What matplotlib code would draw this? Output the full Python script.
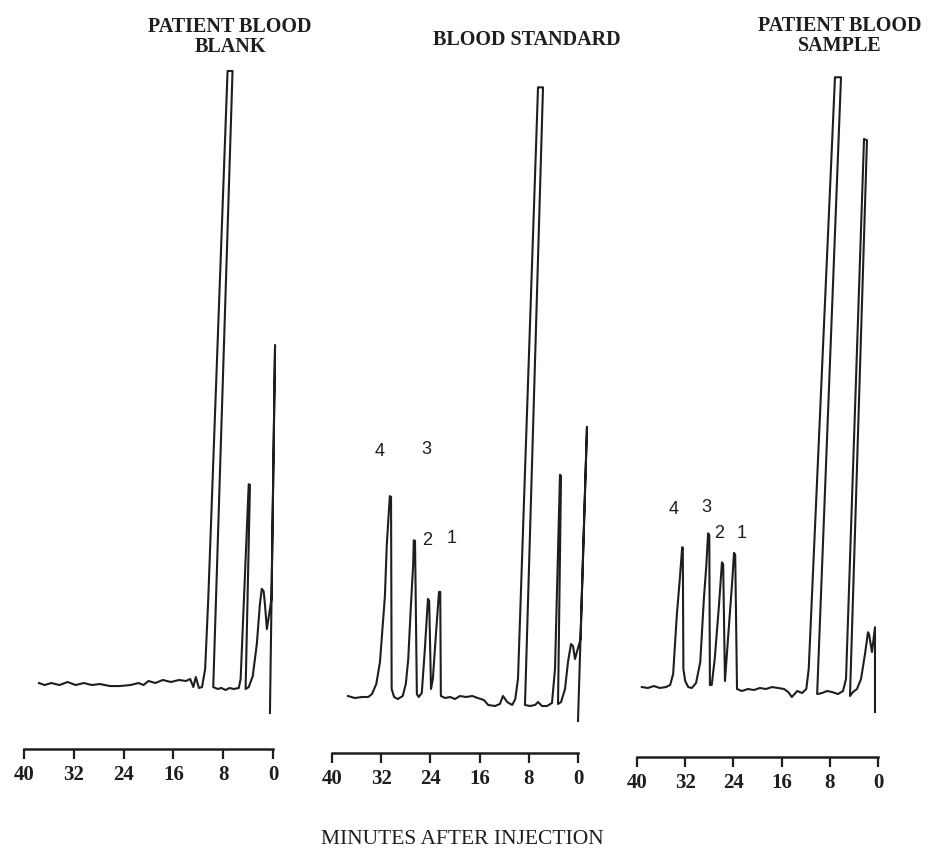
#! /usr/bin/env python3
import matplotlib
matplotlib.use('Agg')
import matplotlib.pyplot as plt

# minutes after injection and detector signal (% of full scale)
blank_t = [37.6, 36.7, 35.6, 34.3, 33.0, 31.7, 30.4, 29.1, 27.8, 26.2, 24.6, 22.9, 21.6, 20.8,
           20.0, 18.9, 17.7, 16.4, 15.1, 14.0, 13.3, 12.8, 12.4, 11.9, 11.4, 10.9, 10.4, 7.3, 6.5,
           9.6, 8.9, 8.3, 7.6, 7.0, 6.3, 5.5, 5.2, 3.9, 3.7, 4.4, 3.9, 3.25, 2.6, 2.1, 1.8, 1.5,
           1.3, 0.98, 0.24, -0.33, 0.49]
blank_v = [2.54, 2.22, 2.54, 2.22, 2.70, 2.22, 2.54, 2.22, 2.38, 2.06, 2.06, 2.22, 2.54, 2.22,
           2.86, 2.54, 3.02, 2.70, 3.02, 2.86, 3.17, 1.90, 3.49, 1.75, 1.90, 4.76, 15.9, 99.7, 99.7,
           1.90, 1.59, 1.75, 1.43, 1.75, 1.59, 1.75, 3.17, 34.1, 34.0, 1.59, 1.90, 3.65, 8.73, 15.1,
           17.5, 17.1, 15.1, 11.1, 15.9, 56.2, -2.22]

std_t = [37.4, 36.3, 35.1, 34.1, 33.5, 32.8, 32.2, 31.4, 31.1, 30.6, 30.4, 30.3, 29.9, 29.3,
         28.5, 28.0, 27.6, 27.2, 26.8, 26.7, 26.5, 26.2, 25.9, 25.4, 24.9, 24.4, 24.2, 23.9,
         23.6, 23.1, 22.6, 22.4, 22.3, 21.6, 20.8, 20.0, 19.2, 18.2, 17.2, 16.3, 15.3, 14.6,
         13.5, 12.7, 12.2, 11.5, 10.7, 10.2, 9.76, 6.50, 5.69, 8.62, 7.80, 6.99, 6.50, 5.85,
         5.04, 4.23, 3.74, 2.93, 2.76, 3.25, 2.76, 2.11, 1.63, 1.14, 0.81, 0.49, -0.41, -1.46, 0.0]
std_v = [0.48, 0.16, 0.32, 0.32, 0.79, 2.38, 5.87, 16.3, 24.3, 32.2, 32.1, 1.59, 0.32, 0.0,
         0.48, 2.38, 6.35, 14.3, 21.4, 25.2, 25.1, 0.79, 0.32, 0.95, 7.94, 15.9, 15.6, 1.59,
         3.17, 10.3, 17.0, 17.0, 0.48, 0.16, 0.32, 0.0, 0.48, 0.32, 0.48, 0.16, -0.16, -0.95,
         -1.11, -0.79, 0.48, -0.48, -0.95, 0.0, 3.17, 97.1, 97.1, -0.95, -1.11, -0.95, -0.48, -1.11,
         -1.11, -0.63, 4.76, 35.6, 35.4, -0.79, -0.48, 1.59, 5.87, 8.73, 8.41, 6.35, 9.52, 43.2, -3.49]

sample_t = [39.2, 38.2, 37.2, 36.2, 35.2, 34.5, 34.0, 33.4, 32.9, 32.5, 32.4, 32.3, 32.0, 31.5,
            30.9, 30.2, 29.5, 28.9, 28.5, 28.2, 28.0, 27.9, 27.6, 27.1, 26.4, 25.9, 25.7, 25.4,
            24.9, 24.2, 23.9, 23.7, 23.4, 22.6, 21.6, 20.6, 19.6, 18.6, 17.6, 16.6, 15.6, 14.9,
            14.3, 13.4, 12.6, 11.9, 11.5, 7.14, 6.14, 10.1, 9.29, 8.46, 7.63, 6.64, 5.81, 5.31,
            2.32, 1.83, 4.65, 4.15, 3.49, 2.82, 2.16, 1.66, 1.49, 1.00, 0.50, 0.50]
sample_v = [1.90, 1.75, 2.06, 1.75, 1.90, 2.22, 3.97, 13.2, 19.0, 24.1, 24.0, 4.76, 2.86, 1.90,
            1.75, 2.54, 5.87, 15.9, 21.1, 26.3, 26.0, 2.22, 2.22, 6.35, 14.8, 21.7, 21.4, 2.86,
            9.52, 18.6, 23.2, 22.9, 1.59, 1.27, 1.59, 1.43, 1.75, 1.59, 1.90, 1.75, 1.59, 1.11,
            0.32, 1.27, 0.95, 1.59, 4.76, 98.7, 98.7, 0.79, 0.95, 1.27, 1.11, 0.79, 1.27, 3.17,
            88.9, 88.7, 0.48, 1.11, 1.59, 3.17, 7.14, 10.6, 10.3, 7.46, 11.4, -2.06]

peak_names = ['4', '3', '2', '1']
std_peak_t = [32.2, 24.6, 24.6, 20.5]
std_peak_v = [39.4, 39.7, 25.4, 25.7]
sample_peak_t = [34.0, 28.5, 26.4, 22.7]
sample_peak_v = [30.2, 30.5, 26.5, 26.5]

ticks = [40, 32, 24, 16, 8, 0]

W, H = 929, 853
ink = '#1e1e1e'
fig = plt.figure(figsize=(W / 100, H / 100), dpi=100)
serif = 'Liberation Serif'

# left pixel, width pixel, bar offset (pt)
panels = [
  (24, 249, 14.4, blank_t, blank_v, None),
  (332, 246, 17.3, std_t, std_v, (std_peak_t, std_peak_v)),
  (637, 241, 20.2, sample_t, sample_v, (sample_peak_t, sample_peak_v)),
]

for left, width, drop, t, v, labels in panels:
  ax = fig.add_axes([left / W, (H - 730) / H, width / W, 670 / H])
  ax.plot(t, v, color=ink, lw=1.5, clip_on=False)
  for side in ['left', 'top', 'right']:
    ax.spines[side].set_visible(False)
  ax.spines['bottom'].set_position(('outward', drop))
  ax.spines['bottom'].set_linewidth(1.8)
  ax.spines['bottom'].set_color(ink)
  ax.set_xlim(40, 0)
  ax.set_ylim(-4.76, 101.6)
  ax.set_yticks([])
  ax.set_xticks(ticks)
  ax.tick_params(axis='x', direction='out', length=7, width=1.6, pad=3.5, color=ink,
                 labelsize=15, labelfontfamily=serif, labelcolor=ink)
  for lab in ax.get_xticklabels():
    lab.set_fontweight('bold')
  ax.patch.set_visible(False)
  if labels:
    for name, lt, lv in zip(peak_names, labels[0], labels[1]):
      ax.text(lt, lv, name, ha='center', va='center', fontsize=13,
              fontfamily='Liberation Sans', color=ink)

def title(x, y, s):
  fig.text(x / W, 1 - y / H, s, ha='center', va='center', fontfamily=serif,
           fontsize=14.5, fontweight='bold', color=ink, linespacing=0.95)

title(230, 37, 'PATIENT BLOOD\nBLANK')
title(527, 40, 'BLOOD STANDARD')
title(840, 36, 'PATIENT BLOOD\nSAMPLE')
fig.text(462 / W, 1 - 840 / H, 'MINUTES AFTER INJECTION', ha='center', va='center',
         fontfamily=serif, fontsize=15.5, color=ink)

fig.savefig('out.png', dpi=100, facecolor='white')
